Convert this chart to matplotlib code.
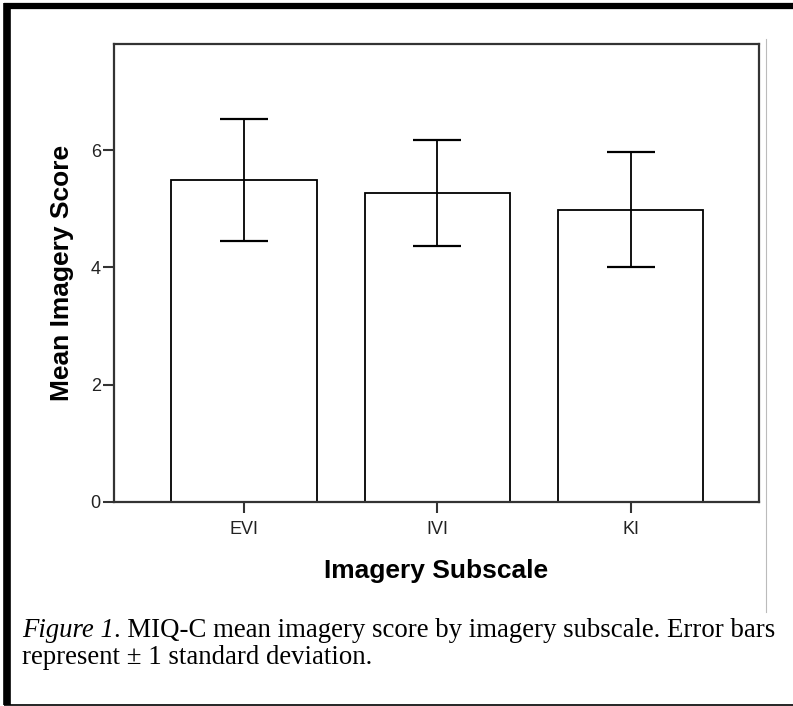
import matplotlib
matplotlib.use("Agg")
import matplotlib.pyplot as plt
from matplotlib.lines import Line2D

categories = ['EVI', 'IVI', 'KI']
means = [5.49, 5.27, 4.98]
sds = [1.04, 0.90, 0.98]
yticks = [0, 2, 4, 6]

sans = ['Liberation Sans', 'DejaVu Sans']
serif = ['Liberation Serif', 'DejaVu Serif']

fig = plt.figure(figsize=(7.93, 7.06), dpi=100)
ax = fig.add_axes([114 / 793, 1 - 502 / 706, 645 / 793, 458 / 706])

x = list(range(len(categories)))
ax.bar(x, means, width=0.75, color='white', edgecolor='black', linewidth=1.3, zorder=2)
ax.errorbar(x, means, yerr=sds, fmt='none', ecolor='black', elinewidth=1.3,
            capsize=17.3, capthick=1.6, zorder=3)

ax.set_xlim(-0.672, 2.662)
ax.set_ylim(0, 7.81)
ax.set_xticks(x)
ax.set_xticklabels(categories, family=sans, fontsize=13, color='#222222')
ax.set_yticks(yticks)
ax.set_yticklabels([str(t) for t in yticks], family=sans, fontsize=13, color='#222222')
ax.tick_params(axis='both', direction='out', length=8, width=1.5, color='#333333')
ax.tick_params(axis='x', pad=5.5)
ax.tick_params(axis='y', pad=1.5)

for s in ax.spines.values():
    s.set_color('#333333')
    s.set_linewidth(1.6)

ax.set_xlabel('Imagery Subscale', family=sans, fontsize=19, fontweight='bold', labelpad=15)
ax.set_ylabel('Mean Imagery Score', family=sans, fontsize=19, fontweight='bold', labelpad=12)

# page frame around the figure
fig.add_artist(Line2D([7 / 793, 7 / 793], [1 - 3 / 706, 1 - 705 / 706], color='black', lw=5.5,
                      transform=fig.transFigure, solid_capstyle='butt'))
fig.add_artist(Line2D([4 / 793, 1.0], [1 - 6 / 706, 1 - 6 / 706], color='black', lw=4.5,
                      transform=fig.transFigure, solid_capstyle='butt'))
fig.add_artist(Line2D([4 / 793, 1.0], [1 - 705 / 706, 1 - 705 / 706], color='black', lw=1.2,
                      transform=fig.transFigure, solid_capstyle='butt'))
fig.add_artist(Line2D([766 / 793, 766 / 793], [1 - 39 / 706, 1 - 612 / 706], color='#bbbbbb', lw=0.8,
                      transform=fig.transFigure))

# caption
cap_size = 19.3
cap1 = fig.text(22 / 793, 1 - 637 / 706, 'Figure 1', family=serif, style='italic',
                fontsize=cap_size, va='baseline', ha='left')
fig.canvas.draw()
bb = cap1.get_window_extent()
fig.text(bb.x1 / fig.bbox.width, 1 - 637 / 706,
         '. MIQ-C mean imagery score by imagery subscale. Error bars',
         family=serif, fontsize=cap_size, va='baseline', ha='left')
fig.text(22 / 793, 1 - 664 / 706, 'represent \u00b1 1 standard deviation.', family=serif,
         fontsize=cap_size, va='baseline', ha='left')

fig.savefig('out.png', dpi=100)
